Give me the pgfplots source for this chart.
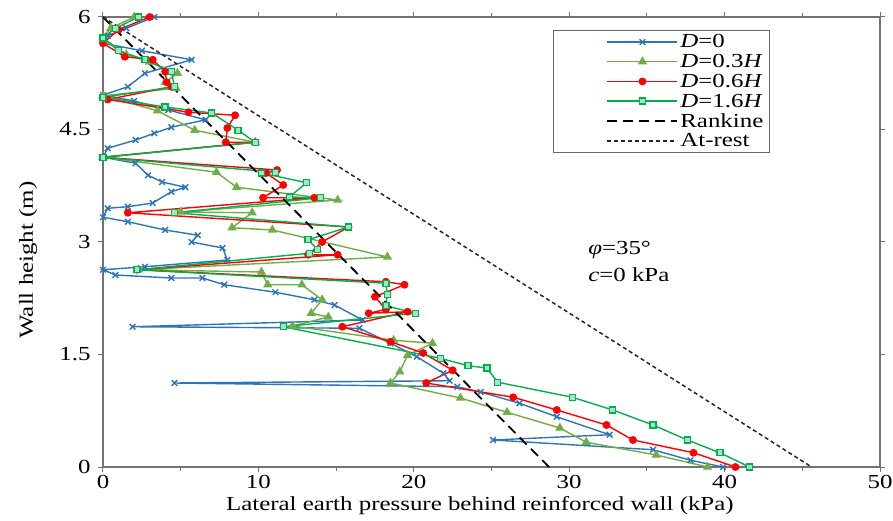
\documentclass[border=0pt]{standalone}
\usepackage{fontspec}
\setmainfont{Liberation Serif}[FakeStretch=1.25]
\usepackage{pgfplots}
\pgfplotsset{compat=1.18}
\definecolor{cblue}{HTML}{2E75B6}
\definecolor{cgreen}{HTML}{70AD47}
\definecolor{cred}{HTML}{FF0000}
\definecolor{cteal}{HTML}{00B050}
\begin{document}
\begin{tikzpicture}
\begin{axis}[
 scale only axis, width=777bp, height=450bp,
 xmin=0,xmax=50,ymin=0,ymax=6,
 xtick={0,10,...,50}, minor xtick={5,15,...,45},
 ytick={0,1.5,3,4.5,6},
 /pgf/number format/assume math mode=true,
 tick label style={font=\fontsize{20}{24}\selectfont},
 yticklabel style={xshift=-4bp},
 label style={font=\fontsize{20}{24}\selectfont},
 tick align=outside, major tick length=5bp, minor tick length=4bp,
 axis line style={black!55, line width=1.2bp},
 tick style={black!55, line width=1bp},
 xlabel={Lateral earth pressure behind reinforced wall (kPa)},
 ylabel={Wall height (m)},
 xlabel style={at={(rel axis cs:0.485,-0.085)}, anchor=center},
 ylabel style={at={(rel axis cs:-0.0965,0.46)}, anchor=center},
 clip=false,
 legend style={at={(rel axis cs:0.579,0.971)}, anchor=north west, draw=black!60, line width=1.2bp,
   font=\fontsize{20}{24}\selectfont, inner xsep=4bp, inner ysep=2bp, row sep=1bp},
 legend cell align=left,
 legend image code/.code={\path[draw=none,fill=none] (-50bp,0bp) -- (0bp,0bp); \draw[mark repeat=2,mark phase=2] plot coordinates {(0bp,0bp) (35bp,0bp) (70bp,0bp)};},
]
\addplot[cblue, line width=1.4bp, mark=x, mark size=4bp, mark options={solid}] coordinates {
(3.3,6.0)(1.5,5.85)(0.3,5.75)(0,5.65)(2.5,5.55)(5.7,5.43)(2.7,5.25)(1.6,5.07)(0,4.96)(2,4.88)(4.2,4.76)(6.6,4.63)(4.4,4.53)(3.3,4.45)(2.1,4.36)(0.3,4.25)(0,4.13)(2.1,4.05)(2.9,3.89)(3.8,3.8)(5.3,3.73)(4.4,3.67)(3.2,3.52)(1.6,3.47)(0.3,3.45)(0,3.33)(1.6,3.27)(4.0,3.16)(6.1,3.09)(5.7,3.0)(7.7,2.92)(8.0,2.76)(2.7,2.67)(0,2.63)(0.8,2.56)(4.4,2.52)(6.4,2.52)(7.8,2.43)(11.1,2.33)(13.6,2.23)(14.9,2.16)(16.7,1.96)(1.9,1.87)(16.5,1.85)(18.5,1.65)(20.2,1.47)(21.9,1.25)(22.3,1.15)(4.6,1.12)(22.8,1.07)(24.3,1.0)(26.8,0.85)(29.2,0.67)(32.6,0.43)(25.1,0.36)(35.4,0.23)(37.8,0.09)(39.9,0)};
\addlegendentry{\textit{D}=0}
\addplot[cgreen, line width=1.4bp, mark=triangle*, mark size=4bp, mark options={solid}] coordinates {
(2.0,6.0)(0.5,5.85)(0,5.72)(1.5,5.5)(3.0,5.4)(4.8,5.25)(4.0,5.13)(4.7,5.05)(0,4.95)(3.5,4.75)(5.9,4.49)(9.8,4.33)(0,4.13)(7.3,3.93)(8.6,3.73)(15.1,3.56)(5.0,3.4)(9.6,3.39)(8.3,3.19)(10.9,3.16)(18.3,2.8)(2.3,2.63)(10.2,2.6)(10.6,2.43)(12.8,2.43)(14.1,2.23)(13.4,2.05)(14.5,2.0)(12.2,1.88)(18.7,1.69)(21.2,1.65)(19.6,1.49)(19.1,1.27)(18.5,1.12)(23,0.92)(26,0.73)(29.4,0.52)(31.1,0.33)(35.6,0.16)(38.9,0)};
\addlegendentry{\textit{D}=0.3\textit{H}}
\addplot[cred, line width=1.4bp, mark=*, mark size=3.2bp, mark options={solid}] coordinates {
(3.0,6.0)(1.0,5.83)(0,5.65)(1.4,5.47)(3.2,5.43)(4.0,5.27)(4.1,5.13)(4.4,5.07)(0.3,4.9)(5.5,4.73)(8.5,4.69)(8.0,4.52)(7.9,4.33)(9.8,4.33)(0,4.13)(11.2,3.96)(10.5,3.92)(11.6,3.76)(10.3,3.59)(13.6,3.59)(1.6,3.39)(15.8,3.2)(14.1,3.0)(13.2,2.83)(15.1,2.83)(2.2,2.63)(18.2,2.47)(19.4,2.43)(17.5,2.27)(18.2,2.1)(17.1,2.05)(19.6,2.07)(15.4,1.87)(18.5,1.67)(20.6,1.52)(22.5,1.29)(20.8,1.12)(26.4,0.93)(29.2,0.76)(32.4,0.56)(34.1,0.36)(38.0,0.19)(40.7,0)};
\addlegendentry{\textit{D}=0.6\textit{H}}
\addplot[cteal, line width=1.4bp, mark=square*, mark size=3bp, mark options={solid, fill=cteal!35}] coordinates {
(2.3,6.0)(0.8,5.85)(0,5.72)(1.0,5.55)(2.7,5.43)(4.4,5.27)(4.6,5.07)(0,4.93)(4,4.8)(7.0,4.72)(8.7,4.49)(9.8,4.33)(0,4.13)(11.1,3.93)(10.2,3.92)(13.1,3.79)(12.0,3.6)(14.0,3.59)(4.6,3.39)(15.8,3.2)(13.2,3.03)(13.8,2.9)(13.3,2.85)(2.2,2.63)(18.2,2.45)(18.3,2.3)(18.2,2.15)(20.1,2.05)(11.6,1.87)(21.7,1.45)(23.5,1.35)(24.7,1.32)(25.4,1.13)(30.2,0.93)(32.8,0.76)(35.4,0.56)(37.6,0.36)(39.7,0.19)(41.6,0)};
\addlegendentry{\textit{D}=1.6\textit{H}}
\addplot[black, line width=1.8bp, dash pattern=on 10bp off 6bp] coordinates {(0,6) (28.7,0)};
\addlegendentry{Rankine}
\addplot[black!85, line width=1.5bp, dash pattern=on 4bp off 3bp] coordinates {(0,6) (45.6,0)};
\addlegendentry{At-rest}
\node[anchor=west, font=\fontsize{20}{24}\selectfont] at (axis cs:31,2.89) {\textit{φ}=35°};
\node[anchor=west, font=\fontsize{20}{24}\selectfont] at (axis cs:31,2.56) {\textit{c}=0 kPa};
\end{axis}
\pgfresetboundingbox
\path (-103bp,-54bp) rectangle (790bp,467bp);
\end{tikzpicture}
\end{document}
